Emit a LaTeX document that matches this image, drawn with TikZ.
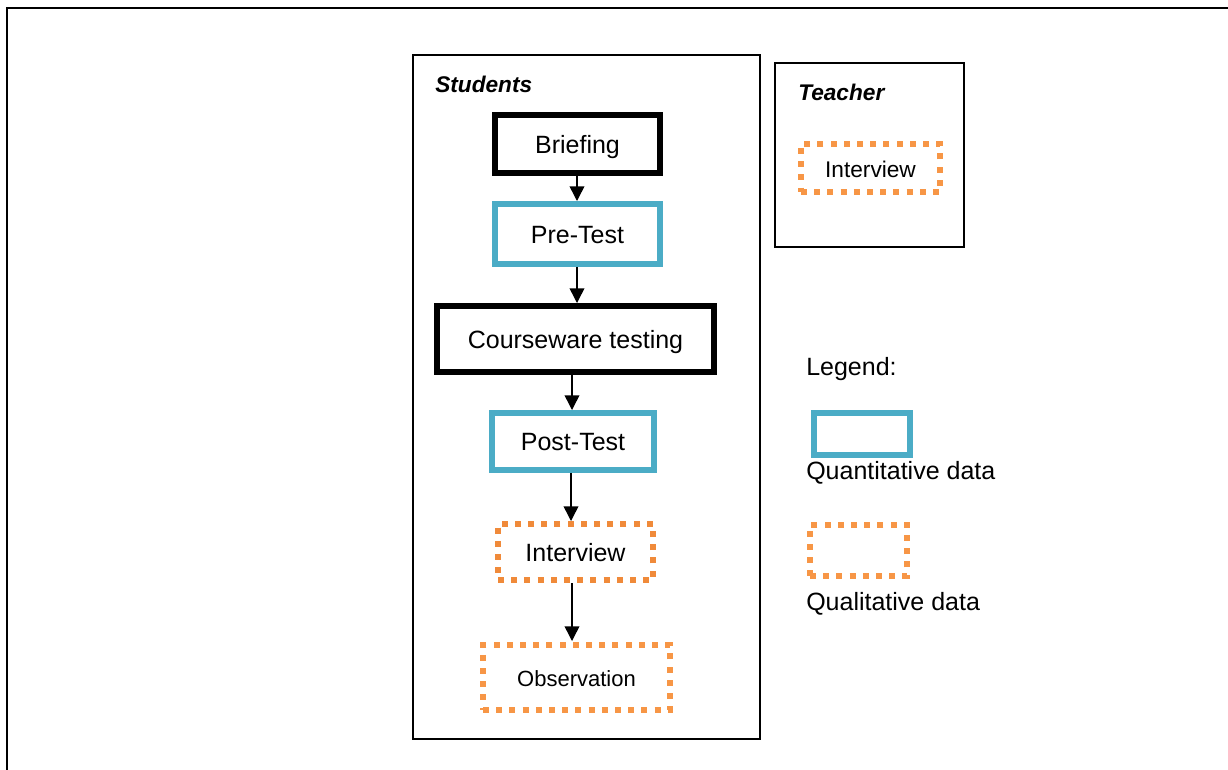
\documentclass[tikz,border=0pt]{standalone}
\usepackage{fontspec}
\setmainfont{Liberation Sans}
\usetikzlibrary{arrows.meta}
\definecolor{teal}{HTML}{4BACC6}
\definecolor{orng}{HTML}{F79646}
\definecolor{orngd}{HTML}{F08A3A}
\def\px{0.75pt}
\tikzset{
  base/.style={draw, rectangle, inner sep=0pt, text height=14pt, text depth=0.5pt, font=\fontsize{18.75}{22}\selectfont},
  blackbox/.style={base, draw=black, line width=4.5pt},
  quantbox/.style={base, draw=teal, line width=4.2pt},
  qualbox/.style={base, draw=orng, line width=4.5pt, dash pattern=on 4.5pt off 5.4pt},
  frame/.style={draw=black, line width=1.3pt},
  flow/.style={line width=1.1pt, -{Triangle[width=11pt,length=11pt]}},
  title/.style={anchor=west, inner sep=0pt, font=\fontsize{17}{20}\selectfont\bfseries\itshape},
  txt/.style={anchor=west, inner sep=0pt, font=\fontsize{18.75}{22}\selectfont}
}
\begin{document}
\begin{tikzpicture}[x=0.75pt,y=-0.75pt]
\useasboundingbox (0,0) rectangle (1228,769);
% outer frame (extends beyond the page on right and bottom)
\draw[line width=1.6pt] (7,8) rectangle (1260,800);
% group frames
\node[frame, minimum width={347*\px}, minimum height={684*\px}, inner sep=0pt] (stud) at (586.5,397) {};
\node[frame, minimum width={189*\px}, minimum height={184*\px}, inner sep=0pt] (teach) at (869.5,155) {};
\node[title] (studt) at (435,84) {Students};
\node[title] (teacht) at (798,92) {Teacher};
% student flow
\node[blackbox, minimum width={165*\px}, minimum height={58*\px}] (brief) at (577.5,144) {Briefing};
\node[quantbox, minimum width={165*\px}, minimum height={60*\px}] (pre) at (577.5,234) {Pre-Test};
\node[blackbox, minimum width={277*\px}, minimum height={66*\px}] (course) at (575.5,339) {Courseware testing};
\node[quantbox, minimum width={162*\px}, minimum height={57*\px}] (post) at (573,441.5) {Post-Test};
\node[qualbox, draw=orngd, minimum width={155*\px}, minimum height={56*\px}] (intv) at (575.5,552) {Interview};
\node[qualbox, minimum width={187*\px}, minimum height={65*\px}, font=\fontsize{16.5}{20}\selectfont] (obs) at (576.5,677.5) {Observation};
% teacher
\node[qualbox, minimum width={139*\px}, minimum height={48*\px}, font=\fontsize{17}{20}\selectfont] (tintv) at (870.5,168) {Interview};
% arrows
\draw[flow] (brief.south -| 577,0) -- (577,201);
\draw[flow] (pre.south -| 577,0) -- (577,303);
\draw[flow] (course.south -| 572,0) -- (572,410);
\draw[flow] (post.south -| 571,0) -- (571,521);
\draw[flow] (intv.south -| 572,0) -- (572,641);
% legend
\node[txt] (leg) at (806,369) {Legend:};
\node[quantbox, minimum width={96*\px}, minimum height={42*\px}] (lq) at (862,434) {};
\node[txt] (lqt) at (806,473) {Quantitative data};
\node[qualbox, minimum width={97*\px}, minimum height={51*\px}] (ll) at (858.5,550.5) {};
\node[txt] (llt) at (806,604) {Qualitative data};
\end{tikzpicture}
\end{document}
